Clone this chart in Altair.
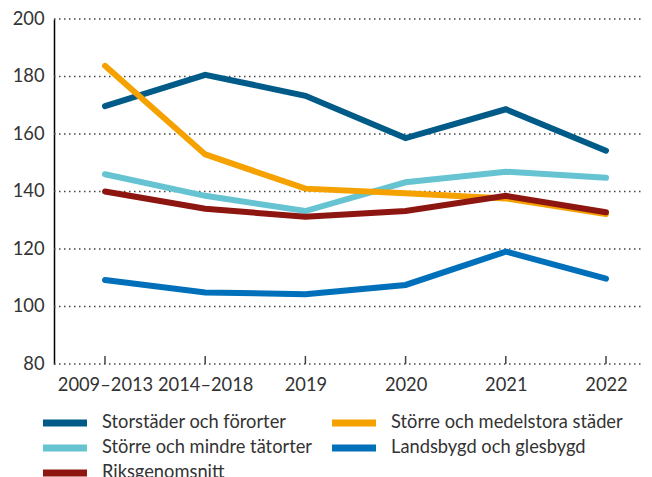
import altair as alt
import pandas as pd

periods = ["2009–2013", "2014–2018", "2019", "2020", "2021", "2022"]
series_names = [
    "Storstäder och förorter",
    "Större och mindre tätorter",
    "Riksgenomsnitt",
    "Större och medelstora städer",
    "Landsbygd och glesbygd",
]
colors = ["#005b88", "#66c4d2", "#8e1611", "#f5a100", "#0070bb"]

storstader = [169.7, 180.6, 173.3, 158.6, 168.6, 154.2]
mindre = [146.0, 138.5, 133.2, 143.2, 146.9, 144.8]
riks = [140.0, 134.0, 131.2, 133.2, 138.5, 132.8]
medelstora = [183.7, 152.9, 141.0, 139.4, 137.6, 132.2]
landsbygd = [109.2, 104.9, 104.3, 107.5, 119.1, 109.7]
y_ticks = [80, 100, 120, 140, 160, 180, 200]

values = [storstader, mindre, riks, medelstora, landsbygd]
rows = []
for name, vals in zip(series_names, values):
    for p, v in zip(periods, vals):
        rows.append({"period": p, "serie": name, "value": v})
df = pd.DataFrame(rows)
tick_df = pd.DataFrame({"period": periods})
grid_df = pd.DataFrame({"value": y_ticks})

FONT = "Lato"
FS = 18.3
W, H = 590, 345

x_enc = alt.X(
    "period:N",
    sort=periods,
    scale=alt.Scale(type="point", range=[51, 552], padding=0),
    axis=alt.Axis(
        title=None, labelAngle=0, domain=False, ticks=False, grid=False,
        labelFontSize=FS, labelColor="#333333", labelFont=FONT, labelPadding=12,
    ),
)

y_scale = alt.Scale(domain=[80, 200], nice=False, zero=False)

color_enc = alt.Color(
    "serie:N",
    scale=alt.Scale(domain=series_names, range=colors),
    legend=alt.Legend(
        title=None, orient="none", legendX=0, legendY=393, columns=2,
        symbolType="M-3,0h6", symbolSize=215, symbolStrokeWidth=7,
        labelFontSize=FS, labelFont=FONT, labelColor="#333333",
        labelOffset=26, columnPadding=6, rowPadding=-9.5, padding=0,
        labelLimit=400,
    ),
)

y_enc = alt.Y(
    "value:Q",
    scale=y_scale,
    axis=alt.Axis(
        title=None, values=y_ticks, domain=True, domainColor="#000000",
        domainWidth=1.5, ticks=False, grid=False, labelFontSize=FS,
        labelColor="#333333", labelFont=FONT, labelPadding=10,
    ),
)

draw_order = [
    "Storstäder och förorter",
    "Landsbygd och glesbygd",
    "Större och mindre tätorter",
    "Större och medelstora städer",
    "Riksgenomsnitt",
]

layers = []
grid = alt.Chart(grid_df).mark_rule(
    color="#444444", strokeWidth=1.3, strokeDash=[1.5, 3.5]
).encode(y=y_enc, x=alt.value(0), x2=alt.value(W + 10))
layers.append(grid)
ticks = alt.Chart(tick_df).mark_rule(color="#444444", strokeWidth=1.5).encode(
    x=x_enc, y=alt.value(H - 8), y2=alt.value(H)
)
layers.append(ticks)
for name in draw_order:
    layers.append(
        alt.Chart(df)
        .transform_filter(alt.datum.serie == name)
        .mark_line(strokeWidth=6, strokeCap="round")
        .encode(x=x_enc, y=y_enc, color=color_enc)
    )

chart = (
    alt.layer(*layers)
    .properties(
        width=W, height=H,
        autosize=alt.AutoSizeParams(type="none"),
        padding={"left": 46, "top": 11, "right": 0, "bottom": 113},
    )
    .configure_view(stroke=None)
)

chart.save("out.html", embed_options={"renderer": "svg", "actions": False})
